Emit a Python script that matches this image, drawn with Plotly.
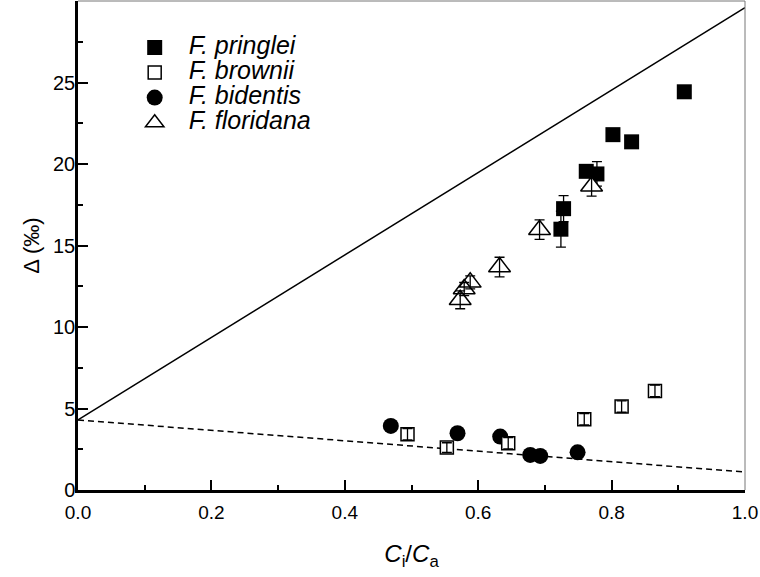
import plotly.graph_objects as go

# ---- data ----
pringlei_x = [0.724, 0.728, 0.762, 0.778, 0.802, 0.830, 0.909]
pringlei_y = [16.0, 17.26, 19.55, 19.39, 21.8, 21.36, 24.43]
pringlei_e = [1.1, 0.8, 0.3, 0.75, 0.3, 0.35, 0.3]

brownii_x = [0.494, 0.553, 0.645, 0.759, 0.815, 0.865]
brownii_y = [3.42, 2.60, 2.87, 4.34, 5.12, 6.08]
brownii_e = [0.35, 0.3, 0.35, 0.35, 0.35, 0.35]

bidentis_x = [0.469, 0.569, 0.633, 0.678, 0.693, 0.749]
bidentis_y = [3.93, 3.48, 3.28, 2.15, 2.09, 2.31]

floridana_x = [0.573, 0.579, 0.588, 0.632, 0.692, 0.770]
floridana_y = [11.67, 12.33, 12.74, 13.68, 15.97, 18.63]
floridana_e = [0.55, 0.4, 0.4, 0.6, 0.6, 0.6]

model_x = [0.0, 1.0]
model_solid = [4.3, 29.6]
model_dashed = [4.3, 1.1]

x_ticks = [0.0, 0.2, 0.4, 0.6, 0.8, 1.0]
y_ticks = [0, 5, 10, 15, 20, 25]

FONT = "Liberation Sans, Arial, Helvetica, sans-serif"
NB = "\u00a0\u00a0\u00a0"

def legname(s):
    return NB + '<span style="font-size:25px"><i>' + s + '</i></span>'

fig = go.Figure()

fig.add_trace(go.Scatter(x=model_x, y=model_solid, mode="lines",
                         line=dict(color="black", width=1.5), showlegend=False, hoverinfo="skip"))
fig.add_trace(go.Scatter(x=model_x, y=model_dashed, mode="lines",
                         line=dict(color="black", width=1.5, dash="6px,4px"), showlegend=False, hoverinfo="skip"))

def ebar(vals):
    return dict(type="data", array=vals, visible=True, color="black", thickness=1.3, width=5)

fig.add_trace(go.Scatter(x=pringlei_x, y=pringlei_y, mode="markers", name=legname("F. pringlei"),
                         legendrank=1,
                         marker=dict(symbol="square", size=15, color="black"),
                         error_y=ebar(pringlei_e)))
fig.add_trace(go.Scatter(x=floridana_x, y=floridana_y, mode="markers", showlegend=False,
                         marker=dict(symbol="triangle-up", size=19, color="white",
                                     line=dict(width=0)), hoverinfo="skip"))
fig.add_trace(go.Scatter(x=floridana_x, y=floridana_y, mode="markers", name=legname("F. floridana"),
                         legendrank=4,
                         marker=dict(symbol="triangle-up-open", size=19, color="black",
                                     line=dict(width=1.5, color="black")),
                         error_y=ebar(floridana_e)))
fig.add_trace(go.Scatter(x=bidentis_x, y=bidentis_y, mode="markers", name=legname("F. bidentis"),
                         legendrank=3,
                         marker=dict(symbol="circle", size=16, color="black")))
fig.add_trace(go.Scatter(x=brownii_x, y=brownii_y, mode="markers", showlegend=False,
                         marker=dict(symbol="square", size=13, color="white",
                                     line=dict(width=0)), hoverinfo="skip"))
fig.add_trace(go.Scatter(x=brownii_x, y=brownii_y, mode="markers", name=legname("F. brownii"),
                         legendrank=2,
                         marker=dict(symbol="square-open", size=13, color="black",
                                     line=dict(width=1.5, color="black")),
                         error_y=ebar(brownii_e)))

# thin grey top / right frame
fig.add_shape(type="line", xref="paper", yref="paper", x0=0, x1=1, y0=1, y1=1,
              line=dict(color="#777", width=1))
fig.add_shape(type="line", xref="paper", yref="paper", x0=1, x1=1, y0=0, y1=1,
              line=dict(color="#777", width=1))

fig.update_layout(
    width=760, height=577,
    margin=dict(l=78, r=15, t=1, b=87, autoexpand=False),
    paper_bgcolor="white", plot_bgcolor="white",
    font=dict(family=FONT, color="black"),
    showlegend=True,
    legend=dict(x=0.085, y=0.941, xanchor="left", yanchor="top",
                font=dict(size=17, family=FONT), bgcolor="rgba(0,0,0,0)",
                itemsizing="trace", tracegroupgap=0),
    xaxis=dict(range=[0, 1], tickvals=x_ticks, tickformat=".1f", automargin=False,
               showgrid=False, zeroline=False,
               showline=True, linecolor="black", linewidth=2.5,
               ticks="inside", ticklen=10, tickwidth=2, tickcolor="black",
               minor=dict(dtick=0.1, ticks="inside", ticklen=5, tickwidth=2, tickcolor="black"),
               tickfont=dict(size=19), ticklabelstandoff=3,
               title=dict(text="<i>C</i><sub>i</sub>/<i>C</i><sub>a</sub>", font=dict(size=24), standoff=24)),
    yaxis=dict(range=[0, 30], tickvals=y_ticks, automargin=False,
               showgrid=False, zeroline=False,
               showline=True, linecolor="black", linewidth=2.5,
               ticks="inside", ticklen=10, tickwidth=2, tickcolor="black",
               minor=dict(dtick=2.5, ticks="inside", ticklen=5, tickwidth=2, tickcolor="black"),
               tickfont=dict(size=20), ticklabelstandoff=-4,
               title=dict(text="Δ (‰)", font=dict(size=22), standoff=8)),
)

fig.write_html("out.html", config={"displayModeBar": False},
               post_script="document.body.style.margin='0px';")
